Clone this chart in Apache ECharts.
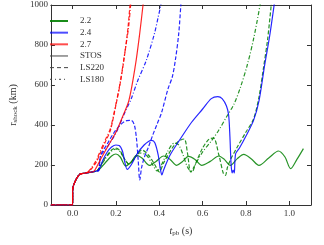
<!DOCTYPE html>
<html>
<head>
<meta charset="utf-8">
<script src="https://cdn.jsdelivr.net/npm/echarts@6/dist/echarts.min.js"></script>
<style>html,body{margin:0;padding:0;background:#fff}#c{width:324px;height:245px}</style>
</head>
<body>
<div id="c"></div>
<script>
// ---- data ----
const xTicks = [0.0, 0.2, 0.4, 0.6, 0.8, 1.0];
const yTicks = [0, 200, 400, 600, 800, 1000];
const legendNames = ['2.2', '2.4', '2.7', 'STOS', 'LS220', 'LS180'];

// common early evolution (t_pb in s, r_shock in km)
const startT = [-0.1, 0.0, 0.0005, 0.005, 0.02, 0.035, 0.05, 0.07, 0.09, 0.11];
const startR = [0, 0, 78, 100, 135, 155, 158, 162, 165, 170];

// M = 2.2
const g_stos_t = [0.12,0.15,0.18,0.2,0.22,0.245,0.27,0.295,0.32,0.355,0.385,0.42,0.45,0.48,0.505,0.535,0.565,0.596,0.635,0.675,0.7,0.728,0.76,0.79,0.825,0.86,0.905,0.95,0.98,1.006,1.035,1.065];
const g_stos_r = [175,210,245,255,240,195,215,248,235,198,218,245,228,198,215,243,228,198,218,245,228,198,232,253,230,198,235,270,240,182,228,282];
const g_ls220_t = [0.12,0.15,0.18,0.2,0.22,0.24,0.26,0.29,0.32,0.35,0.38,0.4,0.42,0.46,0.49,0.515,0.53,0.545,0.56,0.6,0.63,0.65,0.675,0.695,0.705,0.715,0.73,0.76,0.8,0.835,0.86,0.88,0.9,0.92];
const g_ls220_r = [180,235,275,285,270,230,205,240,275,250,200,165,210,285,320,330,260,165,190,285,330,335,250,160,148,190,230,290,365,430,540,680,830,1040];
const g_ls180_t = [0.12,0.15,0.18,0.2,0.22,0.24,0.26,0.28,0.31,0.34,0.37,0.39,0.41,0.44,0.47,0.49,0.51,0.53,0.55,0.57,0.6,0.64,0.675,0.71,0.745,0.775,0.806,0.835,0.865,0.87];
const g_ls180_r = [180,230,270,280,265,230,205,225,260,250,200,170,200,270,310,300,250,190,165,210,265,320,375,440,505,590,700,830,1000,1040];

// M = 2.4
const b_stos_t = [0.12,0.14,0.16,0.18,0.2,0.215,0.23,0.24,0.252,0.27,0.3,0.33,0.35,0.365,0.38,0.395,0.405,0.412,0.42,0.45,0.5,0.55,0.6,0.64,0.67,0.69,0.71,0.72,0.726,0.731,0.736,0.741,0.746,0.752,0.77,0.8,0.835,0.86,0.886,0.91,0.935];
const b_stos_r = [172,225,265,290,300,298,270,220,178,200,260,300,318,323,310,250,180,150,175,250,335,415,480,532,542,532,495,450,340,210,160,175,160,255,285,345,423,520,698,850,1040];
const b_ls220_t = [0.12,0.13,0.16,0.19,0.22,0.25,0.27,0.285,0.295,0.303,0.31,0.318,0.33,0.35,0.37,0.39,0.41,0.44,0.46,0.475,0.49,0.5];
const b_ls220_r = [172,250,305,360,400,422,423,400,330,220,125,185,235,290,350,405,460,580,640,730,860,1010];
const b_ls180_t = [0.12,0.13,0.16,0.2,0.24,0.27,0.3,0.34,0.378,0.395,0.407,0.41];
const b_ls180_r = [172,245,290,360,460,530,620,723,858,940,1000,1040];

// M = 2.7
const r_stos_t = [0.1,0.13,0.161,0.204,0.23,0.26,0.29,0.31,0.325,0.33];
const r_stos_r = [170,230,290,373,440,523,700,860,1000,1050];
const r_ls220_t = [0.07,0.09,0.11,0.13,0.155,0.175,0.2,0.22,0.24,0.255,0.265,0.27];
const r_ls220_r = [165,185,215,265,325,375,500,610,750,880,1000,1050];
const r_ls180_t = [0.07,0.09,0.11,0.13,0.155,0.175,0.2,0.22,0.24,0.258,0.268,0.273];
const r_ls180_r = [165,190,225,275,335,385,505,615,755,885,1000,1050];

// ---- build ----
const COL = {g: 'rgba(0,128,0,0.85)', b: 'rgba(0,0,255,0.85)', r: 'rgba(255,0,0,0.85)'};
const DASH = {stos: 'solid', ls220: [4, 2], ls180: [4, 2, 1, 2]};
const SERIF = '"Liberation Serif", "DejaVu Serif", serif';

function build(tt, rr) {
  const pts = [];
  for (let i = 0; i < startT.length; i++) if (startT[i] < tt[0]) pts.push([startT[i], startR[i]]);
  for (let i = 0; i < tt.length; i++) pts.push([tt[i], rr[i]]);
  return pts;
}
function dataSeries(name, tt, rr, col, dash) {
  return {
    name: name, type: 'line', data: build(tt, rr), symbol: 'none', smooth: 0.3,
    clip: true, silent: true, animation: false,
    lineStyle: {color: col, width: 1.2, type: dash}, z: 2
  };
}
const series = [
  dataSeries('g-stos', g_stos_t, g_stos_r, COL.g, DASH.stos),
  dataSeries('g-ls220', g_ls220_t, g_ls220_r, COL.g, DASH.ls220),
  dataSeries('g-ls180', g_ls180_t, g_ls180_r, COL.g, DASH.ls180),
  dataSeries('b-stos', b_stos_t, b_stos_r, COL.b, DASH.stos),
  dataSeries('b-ls220', b_ls220_t, b_ls220_r, COL.b, DASH.ls220),
  dataSeries('b-ls180', b_ls180_t, b_ls180_r, COL.b, DASH.ls180),
  dataSeries('r-stos', r_stos_t, r_stos_r, COL.r, DASH.stos),
  dataSeries('r-ls220', r_ls220_t, r_ls220_r, COL.r, DASH.ls220),
  dataSeries('r-ls180', r_ls180_t, r_ls180_r, COL.r, DASH.ls180)
];
const legendStyles = [
  {color: 'rgba(0,128,0,0.9)', width: 2, type: 'solid'},
  {color: 'rgba(0,0,255,0.7)', width: 2, type: 'solid'},
  {color: 'rgba(255,0,0,0.7)', width: 2, type: 'solid'},
  {color: '#444', width: 1, type: 'solid'},
  {color: '#444', width: 1, type: [4, 3]},
  {color: '#444', width: 1, type: [2, 3, 1, 3]}
];
legendNames.forEach((n, i) => {
  series.push({name: n, type: 'line', data: [], symbol: 'none', color: legendStyles[i].color,
    lineStyle: legendStyles[i], animation: false});
});

const axisLineStyle = {color: '#333', width: 1};
const option = {
  animation: false,
  grid: {left: 36, right: 13, top: 5, bottom: 40},
  legend: {
    orient: 'vertical', left: 49, top: 16, padding: 0, itemWidth: 18, itemHeight: 10, itemGap: 1.66,
    data: legendNames, selectedMode: false,
    itemStyle: {opacity: 0},
    lineStyle: {width: 'inherit', type: 'inherit', color: 'inherit'},
    textStyle: {fontFamily: SERIF, fontSize: 9, color: '#333', lineHeight: 10, padding: [0, 0, 0, 7]}
  },
  xAxis: [{
    type: 'value', min: -0.1, max: 1.1, position: 'bottom',
    axisLine: {show: true, onZero: false, lineStyle: axisLineStyle},
    splitLine: {show: false},
    axisTick: {inside: true, length: 4, customValues: xTicks, lineStyle: {color: '#333'}},
    axisLabel: {customValues: xTicks, formatter: v => v.toFixed(1), fontFamily: SERIF, fontSize: 9, color: '#333', margin: 4},
    name: '{i|t}{s|pb}{n| (s)}', nameLocation: 'middle', nameGap: 20,
    nameTextStyle: {rich: {
      i: {fontFamily: SERIF, fontSize: 10, fontStyle: 'italic', color: '#333'},
      s: {fontFamily: SERIF, fontSize: 7, color: '#333', padding: [5, 0, 0, 0]},
      n: {fontFamily: SERIF, fontSize: 10, color: '#333'}
    }}
  }, {
    type: 'value', min: -0.1, max: 1.1, position: 'top',
    axisLine: {show: true, onZero: false, lineStyle: axisLineStyle},
    splitLine: {show: false},
    axisTick: {inside: true, length: 4, customValues: xTicks, lineStyle: {color: '#333'}},
    axisLabel: {show: false}
  }],
  yAxis: [{
    type: 'value', min: 0, max: 1000, interval: 200, position: 'left',
    axisLine: {show: true, onZero: false, lineStyle: axisLineStyle},
    splitLine: {show: false},
    axisTick: {inside: true, length: 4, lineStyle: {color: '#333'}},
    axisLabel: {fontFamily: SERIF, fontSize: 9, color: '#333', margin: 3,
      formatter: v => (yTicks.indexOf(v) >= 0 ? String(v) : '')},
    name: '{n|r}{s|shock}{n| (km)}', nameLocation: 'middle', nameGap: 23,
    nameTextStyle: {rich: {
      n: {fontFamily: SERIF, fontSize: 10, color: '#333'},
      s: {fontFamily: SERIF, fontSize: 7, color: '#333', padding: [5, 0, 0, 0]}
    }}
  }, {
    type: 'value', min: 0, max: 1000, interval: 200, position: 'right',
    axisLine: {show: true, onZero: false, lineStyle: axisLineStyle},
    splitLine: {show: false},
    axisTick: {inside: true, length: 4, lineStyle: {color: '#333'}},
    axisLabel: {show: false}
  }],
  series: series
};
const chart = echarts.init(document.getElementById('c'), null, {renderer: 'canvas'});
chart.setOption(option);
</script>
</body>
</html>
